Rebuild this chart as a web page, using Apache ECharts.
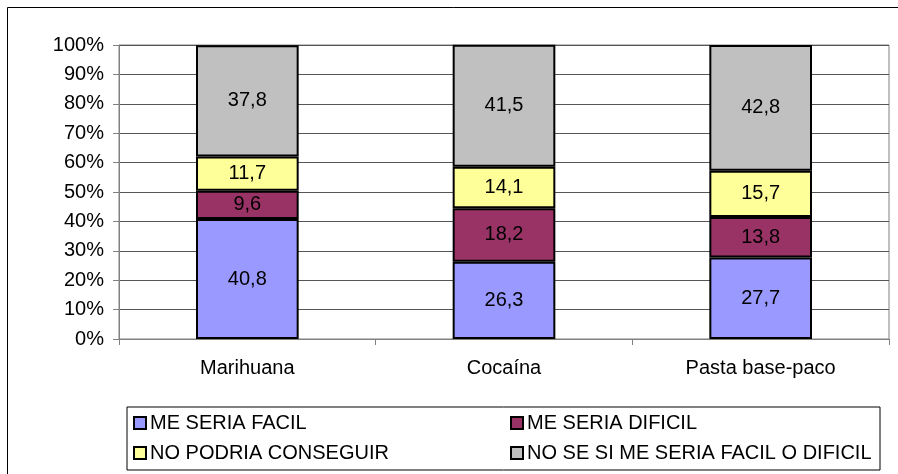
<!DOCTYPE html>
<html>
<head>
<meta charset="utf-8">
<script src="https://cdn.jsdelivr.net/npm/echarts@6/dist/echarts.min.js"></script>
<style>
  html, body { margin: 0; padding: 0; background: #fff; }
  #chart { width: 898px; height: 474px; }
</style>
</head>
<body>
<div id="chart"></div>
<script>
// categorias y valores (%)
var categories = ["Marihuana", "Cocaína", "Pasta base-paco"];
var seriesNames = [
  "ME SERIA FACIL",
  "ME SERIA DIFICIL",
  "NO PODRIA CONSEGUIR",
  "NO SE SI ME SERIA FACIL O DIFICIL",
];
var facil = [40.8, 26.3, 27.7];
var dificil = [9.6, 18.2, 13.8];
var noPodria = [11.7, 14.1, 15.7];
var noSe = [37.8, 41.5, 42.8];
var seriesColors = ["#9999ff", "#993366", "#ffff99", "#c0c0c0"];

var font = "Liberation Sans, Arial, sans-serif";
var fs = 20;
var allData = [facil, dificil, noPodria, noSe];

var myChart = echarts.init(document.getElementById("chart"));
var option = {
  animation: false,
  textStyle: { fontFamily: font },
  graphic: [
    {
      type: "rect",
      shape: { x: 7.5, y: 7.5, width: 1000, height: 1000 },
      style: { fill: "none", stroke: "#000", lineWidth: 1 },
      silent: true,
      z: -1,
    },
  ],
  grid: {
    left: 119,
    top: 45,
    right: 9,
    bottom: 135,
    show: true,
    borderColor: "#808080",
    borderWidth: 1,
  },
  legend: {
    left: 127,
    top: 407,
    width: 750,
    orient: "horizontal",
    padding: [5, 1, 6, 6],
    itemGap: 8,
    itemWidth: 12,
    itemHeight: 12,
    icon: "rect",
    borderColor: "#000",
    borderWidth: 1,
    data: seriesNames,
    textStyle: {
      fontFamily: font,
      fontSize: fs,
      color: "#000",
      width: 352,
      lineHeight: 22,
      padding: [0, 0, 0, -1],
    },
  },
  xAxis: {
    type: "category",
    data: categories,
    axisLine: { lineStyle: { color: "#808080", width: 1 } },
    axisTick: { show: true, length: 6, lineStyle: { color: "#808080" } },
    axisLabel: { color: "#000", fontSize: fs, margin: 19, fontFamily: font },
  },
  yAxis: {
    type: "value",
    min: 0,
    max: 100,
    interval: 10,
    axisLine: { show: true, lineStyle: { color: "#808080", width: 1 } },
    axisTick: { show: true, length: 6, lineStyle: { color: "#808080" } },
    axisLabel: {
      color: "#000",
      fontSize: fs,
      margin: 15,
      fontFamily: font,
      formatter: "{value}%",
    },
    splitLine: { show: true, lineStyle: { color: "#555", width: 1 } },
  },
  series: seriesNames.map(function (name, i) {
    return {
      name: name,
      type: "bar",
      stack: "total",
      barWidth: "40%",
      data: allData[i],
      itemStyle: { color: seriesColors[i], borderColor: "#000", borderWidth: 2 },
      label: {
        show: true,
        position: "inside",
        color: "#000",
        fontSize: fs,
        fontFamily: font,
        formatter: function (p) {
          return String(p.value).replace(".", ",");
        },
      },
    };
  }),
};
option && myChart.setOption(option);
</script>
</body>
</html>
